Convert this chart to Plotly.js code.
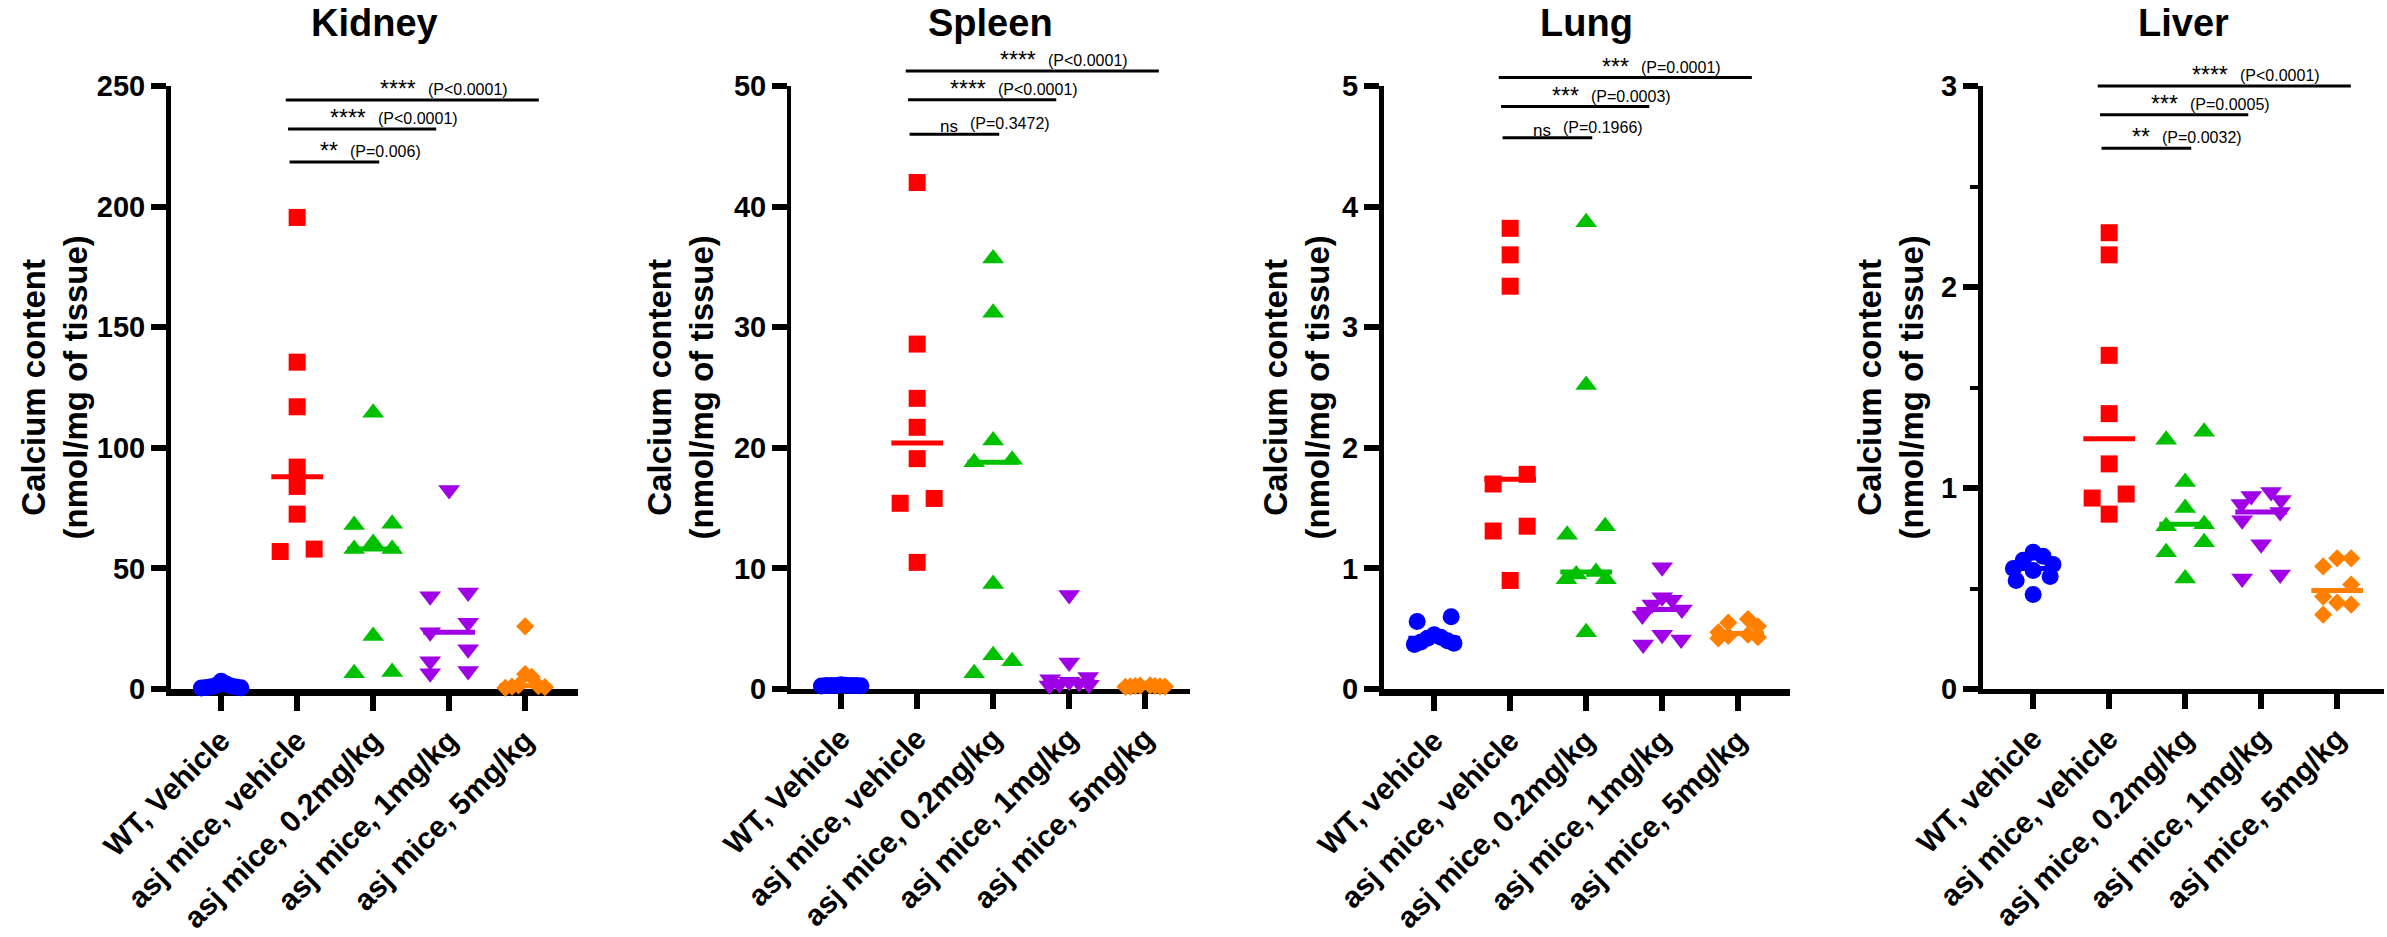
<!DOCTYPE html>
<html><head><meta charset="utf-8">
<script src="https://cdn.plot.ly/plotly-3.0.1.min.js"></script>
<style>html,body{margin:0;padding:0;background:#fff}#chart{width:2387px;height:937px}</style>
</head><body><div id="chart"></div>
<script>
// ---------- DATA ----------
const organs = ["Kidney", "Spleen", "Lung", "Liver"];
const labelsKS = ["WT, Vehicle", "asj mice, vehicle", "asj mice, 0.2mg/kg", "asj mice, 1mg/kg", "asj mice, 5mg/kg"];
const labelsLL = ["WT, vehicle", "asj mice, vehicle", "asj mice, 0.2mg/kg", "asj mice, 1mg/kg", "asj mice, 5mg/kg"];
const yTitle = "Calcium content<br>(nmol/mg of tissue)";

const kidneyWT   = [3.2, 2.1, 1.5, 1.2, 0.9, 0.8, 0.6, 0.5, 0.4];
const kidneyVeh  = [195.5, 135.5, 117, 92, 84, 72.5, 58, 57];
const kidney02   = [114.5, 68.5, 68, 60.5, 58, 58, 22, 7, 6.5];
const kidney1    = [82.5, 40, 38.5, 27.5, 23.5, 16.5, 11.5, 7.5, 6.5];
const kidney5    = [26, 6.2, 5, 1.5, 1.2, 1.0, 0.8, 0.5];

const spleenWT   = [0.35, 0.32, 0.3, 0.3, 0.3, 0.28, 0.27, 0.25, 0.3];
const spleenVeh  = [42, 28.6, 24.1, 21.7, 19.1, 15.8, 15.4, 10.5];
const spleen02   = [35.7, 31.2, 20.6, 19.0, 18.8, 8.7, 2.8, 2.3, 1.3];
const spleen1    = [7.8, 2.2, 1.0, 0.8, 0.6, 0.5, 0.4, 0.35, 0.3];
const spleen5    = [0.3, 0.28, 0.25, 0.25, 0.22, 0.2, 0.2, 0.18];

const lungWT     = [0.60, 0.56, 0.45, 0.43, 0.42, 0.40, 0.39, 0.38, 0.37];
const lungVeh    = [3.82, 3.60, 3.34, 1.78, 1.70, 1.35, 1.31, 0.90];
const lung02     = [3.87, 2.52, 1.35, 1.28, 0.97, 0.95, 0.91, 0.91, 0.47];
const lung1      = [1.01, 0.76, 0.74, 0.70, 0.66, 0.61, 0.45, 0.41, 0.37];
const lung5      = [0.58, 0.55, 0.52, 0.47, 0.45, 0.44, 0.43, 0.42];

const liverWT    = [0.68, 0.66, 0.64, 0.62, 0.60, 0.59, 0.56, 0.54, 0.47];
const liverVeh   = [2.27, 2.16, 1.66, 1.37, 1.12, 0.97, 0.95, 0.87];
const liver02    = [1.28, 1.24, 1.03, 0.90, 0.82, 0.81, 0.73, 0.68, 0.55];
const liver1     = [0.98, 0.96, 0.94, 0.92, 0.88, 0.84, 0.72, 0.57, 0.55];
const liver5     = [0.65, 0.65, 0.61, 0.52, 0.46, 0.43, 0.42, 0.37];

// significance comparisons (vehicle vs 0.2, 1, 5 mg/kg)
const kidneySig = [["**", "(P=0.006)"], ["****", "(P<0.0001)"], ["****", "(P<0.0001)"]];
const spleenSig = [["ns", "(P=0.3472)"], ["****", "(P<0.0001)"], ["****", "(P<0.0001)"]];
const lungSig   = [["ns", "(P=0.1966)"], ["***", "(P=0.0003)"], ["***", "(P=0.0001)"]];
const liverSig  = [["**", "(P=0.0032)"], ["***", "(P=0.0005)"], ["****", "(P<0.0001)"]];
// heights (data units) of the comparison bars
const kidneyBarY = [218.5, 232.2, 244.2];
const spleenBarY = [46.0, 48.86, 51.25];
const lungBarY   = [4.57, 4.83, 5.07];
const liverBarY  = [2.69, 2.857, 3.0];

// ---------- STYLE / LAYOUT ----------
const W = 2387, H = 937, TOP = 86, BOT = 689;
const FONT = "Liberation Sans, Arial, sans-serif";
const colors  = ["#0000FF", "#FF0000", "#00C000", "#A000E6", "#FF8000"];
const symbols = ["circle", "square", "triangle-up", "triangle-down", "diamond"];
const msize   = [17, 17, 19, 19, 14];
const panels = [
  {data:[kidneyWT,kidneyVeh,kidney02,kidney1,kidney5], labels:labelsKS, px:[171,578], yr:[0,250], dtick:50, xlw:7, ylw:5, sig:kidneySig, barY:kidneyBarY, ytx:54},
  {data:[spleenWT,spleenVeh,spleen02,spleen1,spleen5], labels:labelsKS, px:[791,1190], yr:[0,50], dtick:10, xlw:5, ylw:4, sig:spleenSig, barY:spleenBarY, ytx:680},
  {data:[lungWT,lungVeh,lung02,lung1,lung5], labels:labelsLL, px:[1384,1790], yr:[0,5], dtick:1, xlw:7, ylw:5, sig:lungSig, barY:lungBarY, ytx:1296},
  {data:[liverWT,liverVeh,liver02,liver1,liver5], labels:labelsLL, px:[1983,2384], yr:[0,3], dtick:1, minor:0.5, xlw:5, ylw:5, sig:liverSig, barY:liverBarY, ytx:1890}
];
const PX_PER_GROUP = 76, X_LEFT = -0.66;
const barSpan = [[-0.1, 1.08], [-0.12, 1.83], [-0.15, 3.18]]; // relative to group 1

function median(a){const s=[...a].sort((p,q)=>p-q);const n=s.length;return n%2?s[(n-1)/2]:(s[n/2-1]+s[n/2])/2;}

// beeswarm-like horizontal offsets (in group units), computed from pixel overlap
function swarm(vals, pxPerUnitY, markerPx, maxHalf){
  const d = markerPx / PX_PER_GROUP;
  const order = vals.map((v,i)=>i).sort((a,b)=>vals[b]-vals[a]);
  const rows = [];
  for (const i of order){
    const r = rows[rows.length-1];
    if (r && (r.top - vals[i]) * pxPerUnitY < markerPx) r.items.push(i);
    else rows.push({top: vals[i], items:[i]});
  }
  const off = new Array(vals.length).fill(0);
  for (const r of rows){
    const n = r.items.length;
    let slots = [];
    if (n % 2){ slots.push(0); for(let k=1; slots.length<n; k++){ slots.push(k); if(slots.length<n) slots.push(-k);} }
    else { for(let k=1; slots.length<n; k++){ slots.push(k); slots.push(-k);} }
    const maxK = Math.max(...slots.map(Math.abs));
    const step = maxK*d > maxHalf ? maxHalf/maxK : d;
    r.items.forEach((idx,j)=>{ off[idx] = slots[j]*step; });
  }
  return off;
}

const traces = [], annotations = [], shapes = [];
const layout = {
  width: W, height: H, margin:{l:0,r:0,t:0,b:0}, paper_bgcolor:"#fff", plot_bgcolor:"#fff",
  showlegend:false, font:{family:FONT, color:"#000"}, annotations, shapes
};

panels.forEach((p, k) => {
  const ax = k === 0 ? "" : String(k+1);
  const xName = "x"+ax, yName = "y"+ax;
  const xRange = [X_LEFT, X_LEFT + (p.px[1]-p.px[0]) / PX_PER_GROUP];
  const xDom = [p.px[0]/W, p.px[1]/W];
  const yDom = [1 - BOT/H, 1 - TOP/H];
  const pxPerUnitY = (BOT-TOP) / (p.yr[1]-p.yr[0]);
  layout["xaxis"+ax] = {
    domain: xDom, range: xRange, anchor: yName, showgrid:false, zeroline:false,
    showline:true, linecolor:"#000", linewidth:p.xlw, layer:"below traces",
    tickmode:"array", tickvals:[0,1,2,3,4], ticktext:p.labels, ticks:"outside", ticklen:15, tickwidth:6, tickcolor:"#000",
    tickangle:-45, tickfont:{family:FONT, size:30, weight:"bold", color:"#000"}, fixedrange:true
  };
  const yax = {
    domain: yDom, range: p.yr, anchor: xName, showgrid:false, zeroline:false,
    showline:true, linecolor:"#000", linewidth:p.ylw, layer:"below traces",
    dtick:p.dtick, tick0:0, ticks:"outside", ticklen:15, tickwidth:6, tickcolor:"#000",
    tickfont:{family:FONT, size:29, weight:"bold", color:"#000"}, fixedrange:true
  };
  if (p.minor) yax.minor = {dtick:p.minor, ticks:"outside", ticklen:8, tickwidth:4, tickcolor:"#000", showgrid:false};
  layout["yaxis"+ax] = yax;

  // points
  p.data.forEach((vals, g) => {
    const off = swarm(vals, pxPerUnitY, msize[g], 0.26);
    traces.push({
      type:"scatter", mode:"markers", xaxis:xName, yaxis:yName, cliponaxis:false,
      x: vals.map((v,i)=>g+off[i]), y: vals,
      marker:{symbol:symbols[g], size:msize[g], color:colors[g], line:{width:0}}, hoverinfo:"y"
    });
  });
  // medians
  p.data.forEach((vals, g) => {
    const m = median(vals);
    traces.push({
      type:"scatter", mode:"lines", xaxis:xName, yaxis:yName,
      x:[g-0.34, g+0.34], y:[m, m], line:{color:colors[g], width:5}, hoverinfo:"skip"
    });
  });

  const toPaperX = v => xDom[0] + (v - xRange[0]) / (xRange[1]-xRange[0]) * (xDom[1]-xDom[0]);
  const toPaperY = v => yDom[0] + (v - p.yr[0]) / (p.yr[1]-p.yr[0]) * (yDom[1]-yDom[0]);

  // significance bars
  p.sig.forEach((s, j) => {
    const xa = 1 + barSpan[j][0], xb = 1 + barSpan[j][1];
    const yb = toPaperY(p.barY[j]);
    shapes.push({type:"line", xref:"paper", yref:"paper", x0:toPaperX(xa), x1:toPaperX(xb), y0:yb, y1:yb, line:{color:"#000", width:3}});
    const cx = toPaperX((xa+xb)/2);
    annotations.push({xref:"paper", yref:"paper", x:cx, y:yb, xanchor:"right", yanchor:"bottom", xshift:6, yshift:-4,
      text:s[0], showarrow:false, font:{family:FONT, size:s[0]==="ns"?17:23, color:"#000"}});
    annotations.push({xref:"paper", yref:"paper", x:cx, y:yb, xanchor:"left", yanchor:"bottom", xshift:14, yshift:0,
      text:s[1], showarrow:false, font:{family:FONT, size:16, color:"#000"}});
  });

  // panel title
  annotations.push({xref:"paper", yref:"paper", x:(xDom[0]+xDom[1])/2, y:1-23/H, xanchor:"center", yanchor:"middle",
    text:organs[k], showarrow:false, font:{family:FONT, size:38, weight:"bold", color:"#000"}});
  // y axis title
  annotations.push({xref:"paper", yref:"paper", x:p.ytx/W, y:1-((TOP+BOT)/2)/H, xanchor:"center", yanchor:"middle",
    textangle:-90, text:yTitle, showarrow:false, font:{family:FONT, size:33, weight:"bold", color:"#000"}});
});

Plotly.newPlot("chart", traces, layout, {displayModeBar:false, staticPlot:true});
</script></body></html>
